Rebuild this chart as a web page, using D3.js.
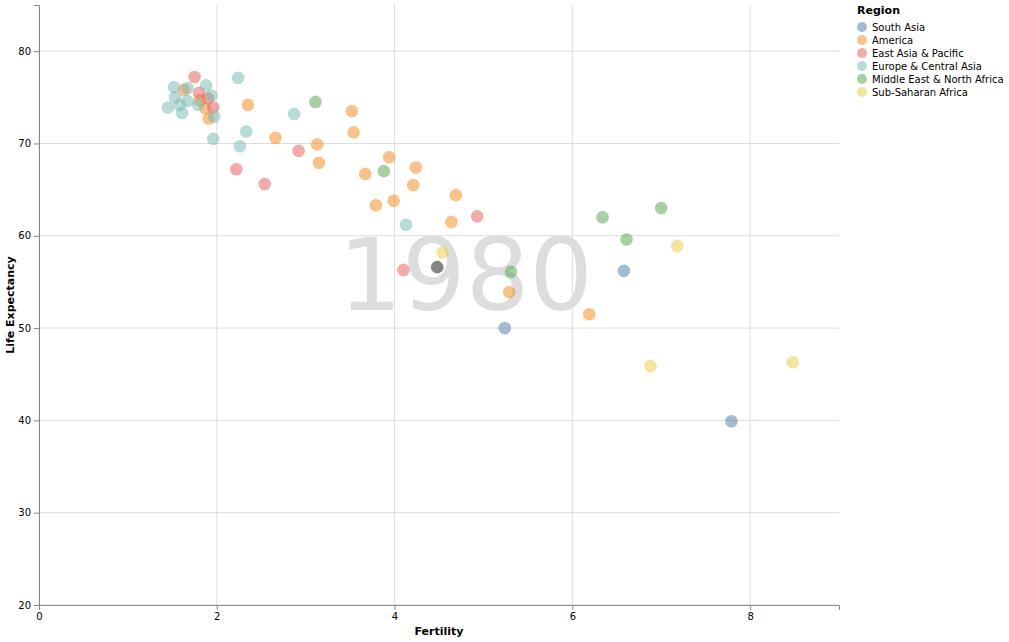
<!DOCTYPE html>
<html><head><meta charset="utf-8">
<script src="https://cdn.jsdelivr.net/npm/d3@7"></script>
<style>body{margin:0;font-family:"DejaVu Sans",sans-serif;background:#fff}</style>
</head><body><svg id="c" width="1009" height="642"></svg>
<script>
const regions = ["South Asia","America","East Asia & Pacific","Europe & Central Asia","Middle East & North Africa","Sub-Saharan Africa"];
const colors = ["#4c78a8","#f58518","#e45756","#72b7b2","#54a24b","#eeca3b"];
const fertility = [
  [5.24,6.58,7.79],
  [1.63,2.35,1.91,2.66,3.13,3.15,3.52,3.54,3.67,3.94,4.24,3.79,3.99,4.21,4.69,4.64,5.29,6.19,1.81,1.87],
  [1.75,1.80,1.96,1.90,2.22,2.54,2.92,4.10,4.93],
  [1.45,1.52,1.53,1.61,1.58,1.67,1.67,1.88,1.94,1.97,1.96,2.24,2.33,2.26,2.87,4.13,1.79],
  [3.11,3.88,5.31,6.34,6.61,7.0],
  [4.54,6.88,7.18,8.48]
];
const lifeExpect = [
  [50.0,56.2,39.9],
  [75.8,74.2,72.7,70.6,69.9,67.9,73.5,71.2,66.7,68.5,67.4,63.3,63.8,65.5,64.4,61.5,53.9,51.5,74.7,73.8],
  [77.2,75.5,73.9,74.9,67.2,65.6,69.2,56.3,62.1],
  [73.9,76.1,75.0,73.3,74.2,76.0,74.6,76.3,75.2,72.9,70.5,77.1,71.3,69.7,73.2,61.2,74.2],
  [74.5,67.0,56.1,62.0,59.6,63.0],
  [58.2,45.9,58.9,46.3]
];
const highlighted = {fertility: 4.48, lifeExpect: 56.6};
const year = "1980";

const m = {left: 39, top: 5}, w = 800, h = 600;
const svg = d3.select("#c");
const g = svg.append("g").attr("transform", `translate(${m.left},${m.top})`);
const x = d3.scaleLinear().domain([0, 9]).range([0, w]);
const y = d3.scaleLinear().domain([20, 85]).range([h, 0]);

// grid
g.append("g").selectAll("line").data(x.ticks(5)).join("line")
  .attr("x1", d => x(d)).attr("x2", d => x(d)).attr("y1", 0).attr("y2", h)
  .attr("stroke", "#ddd");
g.append("g").selectAll("line").data(y.ticks(7)).join("line")
  .attr("y1", d => y(d)).attr("y2", d => y(d)).attr("x1", 0).attr("x2", w)
  .attr("stroke", "#ddd");

g.append("text").attr("x", x(4.8)).attr("y", y(52))
  .attr("text-anchor", "middle").attr("fill", "#ddd")
  .attr("font-size", 100).text(year);

const ax = g.append("g").attr("transform", `translate(0,${h})`).call(d3.axisBottom(x).ticks(5).tickSize(5));
const ay = g.append("g").call(d3.axisLeft(y).ticks(7).tickSize(5));
[ax, ay].forEach(a => {
  a.selectAll("path,line").attr("stroke", "#888");
  a.selectAll("text").attr("font-size", 10).attr("fill", "#000").attr("font-family", "DejaVu Sans");
});
g.append("text").attr("x", w / 2).attr("y", h + 30).attr("text-anchor", "middle")
  .attr("font-size", 11).attr("font-weight", "bold").text("Fertility");
g.append("text").attr("transform", `translate(-25,${h / 2}) rotate(-90)`).attr("text-anchor", "middle")
  .attr("font-size", 11).attr("font-weight", "bold").text("Life Expectancy");

regions.forEach((r, i) => {
  const pts = fertility[i].map((f, j) => ({f, l: lifeExpect[i][j]}));
  g.append("g").selectAll("circle").data(pts).join("circle")
    .attr("cx", d => x(d.f)).attr("cy", d => y(d.l)).attr("r", 6.3)
    .attr("fill", colors[i]).attr("opacity", 0.5);
});
g.append("circle").attr("cx", x(highlighted.fertility)).attr("cy", y(highlighted.lifeExpect))
  .attr("r", 6.3).attr("fill", "#333").attr("opacity", 0.6);

const lg = svg.append("g").attr("transform", "translate(857,14)");
lg.append("text").attr("font-size", 11).attr("font-weight", "bold").text("Region");
regions.forEach((r, i) => {
  const row = lg.append("g").attr("transform", `translate(0,${13 + i * 13})`);
  row.append("circle").attr("cx", 5).attr("cy", 0).attr("r", 5).attr("fill", colors[i]).attr("opacity", 0.5);
  row.append("text").attr("x", 15).attr("y", 3.5).attr("font-size", 10).text(r);
});
</script></body></html>
